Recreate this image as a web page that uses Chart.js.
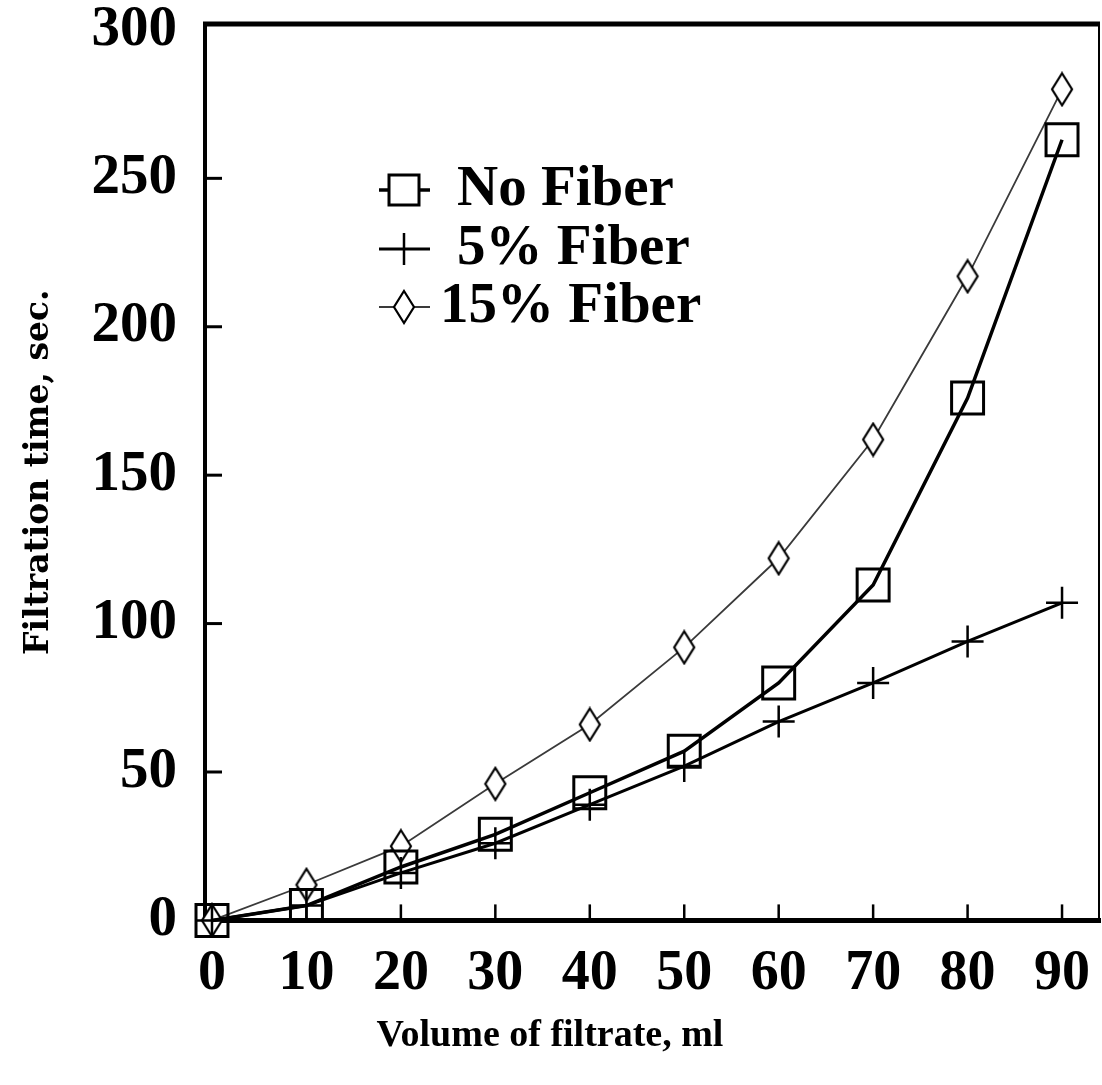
<!DOCTYPE html>
<html><head><meta charset="utf-8">
<script src="https://cdn.jsdelivr.net/npm/chart.js@4/dist/chart.umd.min.js"></script>
<style>html,body{margin:0;padding:0;background:#fff}#wrap{width:1102px;height:1085px;position:relative}</style>
</head><body><div id="wrap"><canvas id="c" width="1102" height="1085"></canvas></div>
<script>
const volumes = [0, 10, 20, 30, 40, 50, 60, 70, 80, 90];
const noFiber = [0, 5, 18, 29, 43, 57, 80, 113, 176, 263];
const fiber5 = [0, 5, 16, 26, 39, 52, 67, 80, 94, 107];
const fiber15 = [0, 12, 25, 46, 66, 92, 122, 162, 217, 280];
const xTickValues = [0, 10, 20, 30, 40, 50, 60, 70, 80, 90];
const yTickValues = [0, 50, 100, 150, 200, 250, 300];
const seriesLabels = ['No Fiber', '5% Fiber', '15% Fiber'];
const xTitle = 'Volume of filtrate, ml';
const yTitle = 'Filtration time, sec.';

// tall diamond marker
const diamond = document.createElement('canvas');
diamond.width = 24; diamond.height = 36;
(function(){
  const g = diamond.getContext('2d');
  g.beginPath();
  g.moveTo(12, 2); g.lineTo(22, 18); g.lineTo(12, 34); g.lineTo(2, 18); g.closePath();
  g.fillStyle = '#fff'; g.fill();
  g.lineWidth = 2.2; g.strokeStyle = '#000'; g.stroke();
})();

function pts(ys) { return volumes.map((v, i) => ({x: v, y: ys[i]})); }

const serif = '"Liberation Serif", "Times New Roman", serif';
const wideSerif = '"DejaVu Serif", serif';

const legendPlugin = {
  id: 'insideLegend',
  afterDatasetsDraw(chart) {
    const ctx = chart.ctx;
    const rows = [190, 249, 307];
    ctx.save();
    chart.data.datasets.forEach((ds, i) => {
      const y = rows[i];
      ctx.strokeStyle = ds.borderColor; ctx.lineWidth = ds.borderWidth;
      ctx.beginPath(); ctx.moveTo(379, y); ctx.lineTo(430, y); ctx.stroke();
      const cx = 404;
      if (ds.pointStyle === 'rect') {
        ctx.fillStyle = '#fff';
        ctx.fillRect(cx - 15, y - 15, 30, 30);
        ctx.lineWidth = ds.pointBorderWidth; ctx.strokeStyle = '#000';
        ctx.strokeRect(cx - 15, y - 15, 30, 30);
      } else if (ds.pointStyle === 'cross') {
        ctx.lineWidth = ds.pointBorderWidth; ctx.strokeStyle = '#000';
        ctx.beginPath(); ctx.moveTo(cx, y - 16); ctx.lineTo(cx, y + 16); ctx.stroke();
      } else {
        ctx.drawImage(ds.pointStyle, cx - ds.pointStyle.width / 2, y - ds.pointStyle.height / 2);
      }
      ctx.fillStyle = '#000';
      ctx.font = 'bold 57px ' + serif;
      ctx.textBaseline = 'alphabetic';
      ctx.textAlign = 'left';
      ctx.fillText(ds.label, i === 2 ? 440 : 457, y + 15);
    });
    ctx.restore();
  }
};

const framePlugin = {
  id: 'frame',
  afterDraw(chart) {
    const ctx = chart.ctx, a = chart.chartArea;
    const xs = chart.scales.x, ys = chart.scales.y;
    ctx.save();
    ctx.strokeStyle = '#000';
    ctx.lineWidth = 5;
    ctx.beginPath(); ctx.moveTo(a.left - 2, a.top); ctx.lineTo(a.right, a.top); ctx.stroke();
    ctx.lineWidth = 2;
    ctx.beginPath(); ctx.moveTo(a.right - 1, a.top); ctx.lineTo(a.right - 1, a.bottom); ctx.stroke();
    ctx.lineWidth = 2.5;
    xTickValues.forEach(v => {
      if (v === 0) return;
      const px = xs.getPixelForValue(v);
      ctx.beginPath(); ctx.moveTo(px, a.bottom); ctx.lineTo(px, a.bottom - 16); ctx.stroke();
    });
    ctx.lineWidth = 3;
    yTickValues.forEach(v => {
      if (v === 0 || v === 300) return;
      const py = ys.getPixelForValue(v);
      ctx.beginPath(); ctx.moveTo(a.left, py); ctx.lineTo(a.left + 17, py); ctx.stroke();
    });
    ctx.restore();
  }
};

new Chart(document.getElementById('c'), {
  type: 'line',
  data: {
    datasets: [
      { label: seriesLabels[0], data: pts(noFiber), borderColor: '#000', borderWidth: 3.5,
        pointStyle: 'rect', pointRadius: 22.6, pointBorderWidth: 3, pointBorderColor: '#000',
        pointBackgroundColor: 'rgba(0,0,0,0)', tension: 0, clip: false },
      { label: seriesLabels[1], data: pts(fiber5), borderColor: '#000', borderWidth: 3,
        pointStyle: 'cross', pointRadius: 16, pointBorderWidth: 2.5, pointBorderColor: '#000',
        tension: 0, clip: false },
      { label: seriesLabels[2], data: pts(fiber15), borderColor: '#3a3a3a', borderWidth: 1.8,
        pointStyle: diamond, pointRadius: 12, tension: 0, clip: false }
    ]
  },
  options: {
    responsive: false,
    animation: false,
    devicePixelRatio: 1,
    layout: { autoPadding: false, padding: { top: 24, right: 2, left: 0, bottom: 26 } },
    plugins: {
      legend: { display: false },
      tooltip: { enabled: false },
      title: { display: true, position: 'bottom', text: xTitle, color: '#000',
        font: { family: serif, size: 38, weight: 'bold', lineHeight: 1.2 }, padding: 0 }
    },
    scales: {
      x: {
        type: 'linear', min: -0.74, max: 94.02,
        afterBuildTicks: s => { s.ticks = xTickValues.map(v => ({ value: v })); },
        afterFit: s => { s.height = 93; s.paddingLeft = 0; s.paddingRight = 0; },
        grid: { display: false, drawTicks: false },
        border: { display: true, width: 5, color: '#000' },
        ticks: { color: '#000', padding: 21, maxRotation: 0, autoSkip: false,
          font: { family: serif, size: 56, weight: 'bold', lineHeight: 1.2 } }
      },
      y: {
        type: 'linear', min: 0, max: 302,
        afterBuildTicks: s => { s.ticks = yTickValues.map(v => ({ value: v })); },
        afterFit: s => { s.width = 205; s.paddingTop = 0; s.paddingBottom = 0; },
        grid: { display: false, drawTicks: false },
        border: { display: true, width: 4, color: '#000' },
        ticks: { color: '#000', padding: 28,
          font: { family: serif, size: 57, weight: 'bold', lineHeight: 1.2 } },
        title: { display: true, text: yTitle, color: '#000', padding: { top: 20, bottom: 0 },
          font: { family: wideSerif, size: 33, weight: 'bold', lineHeight: 1.2 } }
      }
    }
  },
  plugins: [legendPlugin, framePlugin]
});
</script>
</body></html>
